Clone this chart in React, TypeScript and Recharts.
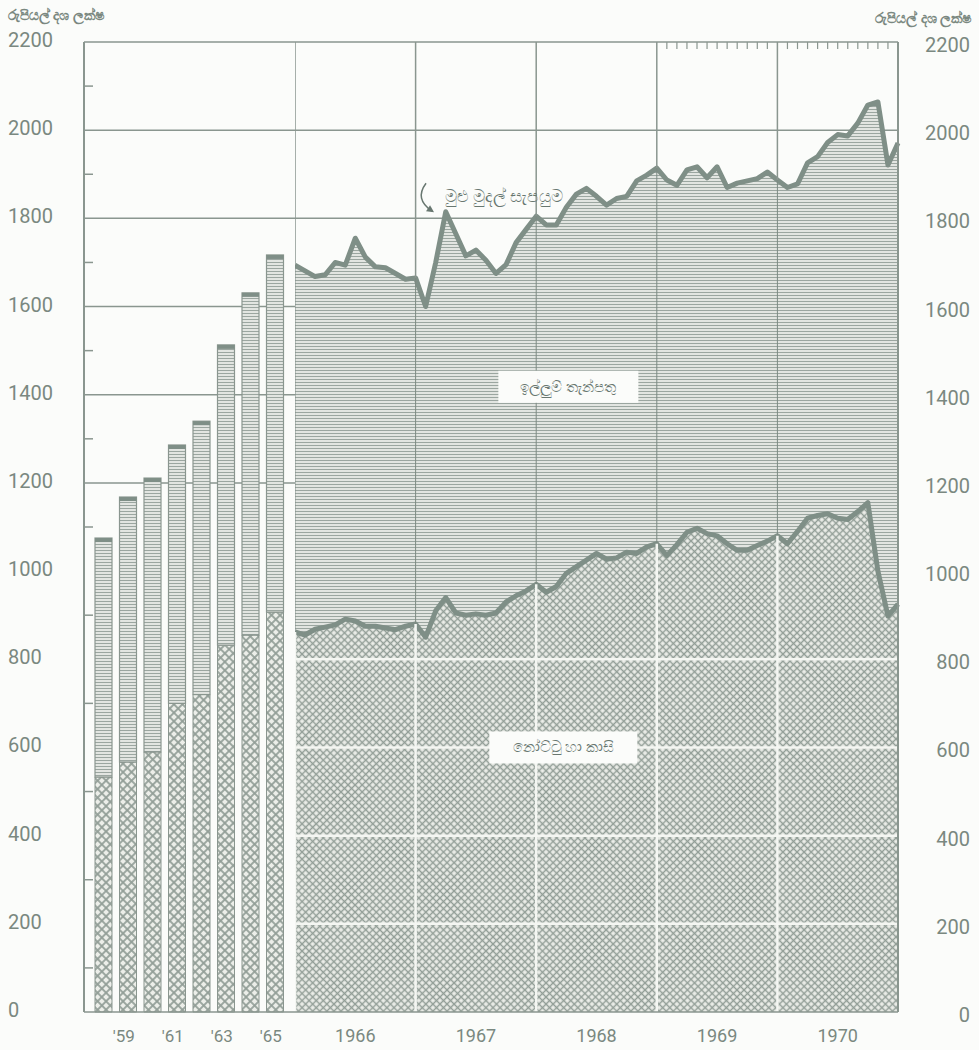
import {
  BarChart,
  Bar,
  ComposedChart,
  Area,
  XAxis,
  YAxis,
  CartesianGrid,
  ReferenceLine,
  ReferenceDot,
} from 'recharts';

// annual figures, end of year (Rs. million)
const annualYears = ['1958', '1959', '1960', '1961', '1962', '1963', '1964', '1965'];
const annualLabels = ['', "'59", '', "'61", '', "'63", '', "'65"];
const annualTotal = [1075, 1168, 1211, 1286, 1340, 1513, 1631, 1717];
const annualNotes = [533, 567, 590, 700, 720, 832, 855, 907];

// monthly figures, Dec 1965 .. Dec 1970
const monthlyTotal = [
  1694, 1681, 1668, 1672, 1700, 1694, 1755, 1712, 1690, 1688, 1675, 1662,
  1665, 1600, 1700, 1815, 1765, 1715, 1728, 1705, 1675, 1695, 1745, 1775,
  1805, 1785, 1785, 1825, 1855, 1868, 1850, 1830, 1845, 1850, 1885, 1898,
  1914, 1887, 1875, 1910, 1917, 1892, 1917, 1870, 1880, 1885, 1890, 1905,
  1887, 1870, 1878, 1926, 1940, 1972, 1990, 1987, 2016, 2057, 2064, 1921,
  1971,
];
const monthlyNotes = [
  862, 855, 868, 873, 878, 891, 887, 875, 875, 871, 867, 875,
  880, 850, 910, 940, 905, 900, 903, 900, 905, 930, 944, 955,
  970, 952, 965, 995, 1010, 1025, 1040, 1027, 1030, 1043, 1040, 1055,
  1062, 1035, 1060, 1088, 1097, 1085, 1080, 1062, 1047, 1047, 1058, 1068,
  1080, 1062, 1090, 1120, 1126, 1130, 1120, 1117, 1135, 1155, 1000, 898,
  925,
];
const yearLabels = ['1966', '1967', '1968', '1969', '1970'];
const yearTicks = [6, 18, 30, 42, 54];
const yearStarts = [0, 12, 24, 36, 48];
const minorMonths = [37, 38, 39, 40, 41, 42, 43, 44, 45, 46, 47, 49, 50, 51, 52, 53, 54, 55, 56, 57, 58, 59];

const yTicks = [0, 100, 200, 300, 400, 500, 600, 700, 800, 900, 1000, 1100, 1200, 1300, 1400, 1500, 1600, 1700, 1800, 1900, 2000, 2100, 2200];
const whiteLines = [200, 400, 600, 800];

const unitLabel = 'රුපියල් දශ ලක්ෂ';
const totalLabel = 'මුළු මුදල් සැපයුම';
const demandLabel = 'ඉල්ලුම් තැන්පතු';
const notesLabel = 'නෝට්ටු හා කාසි';

const INK = '#8a968f';
const LINE = '#7f8f87';
const TEXT = '#7a8880';
const NOTE = '#687770';
const PAPER = '#fbfcfa';
const FONT = 'Roboto, "DejaVu Sans", sans-serif';

const barRows = annualYears.map((y, i) => ({
  year: y,
  notes: annualNotes[i],
  demand: annualTotal[i] - annualNotes[i],
}));

const monthRows = monthlyTotal.map((t, i) => ({ k: i, total: t, notes: monthlyNotes[i] }));

function Patterns({ id, cross }: { id: string; cross: number }) {
  return (
    <defs>
      <pattern id={`hatch${id}`} width="4" height="3" patternUnits="userSpaceOnUse">
        <rect width="4" height="3" fill="#e6e9e5" />
        <line x1="0" y1="1.5" x2="4" y2="1.5" stroke="#9ba6a0" strokeWidth="1.1" />
      </pattern>
      <pattern
        id={`cross${id}`}
        width={cross}
        height={cross}
        patternUnits="userSpaceOnUse"
        patternTransform="rotate(45)"
      >
        <rect width={cross} height={cross} fill="#eceee9" />
        <line x1={cross / 2} y1="0" x2={cross / 2} y2={cross} stroke="#929e97" strokeWidth={cross / 3.4} />
        <line x1="0" y1={cross / 2} x2={cross} y2={cross / 2} stroke="#929e97" strokeWidth={cross / 3.4} />
      </pattern>
    </defs>
  );
}

function LeftTick(props: any) {
  const { x, y, payload } = props;
  if (payload.value % 200 !== 0) {
    return <line x1={x} y1={y} x2={x + 9} y2={y} stroke={INK} strokeWidth={1.5} />;
  }
  return (
    <text x={x - 76} y={y} dy={5} textAnchor="start" fontSize={20} fill={TEXT} fontFamily={FONT}>
      {payload.value}
    </text>
  );
}

function RightTick(props: any) {
  const { x, y, payload } = props;
  if (payload.value % 200 !== 0) return null;
  return (
    <text x={x + 72} y={y} dy={10} textAnchor="end" fontSize={20} fill={TEXT} fontFamily={FONT}>
      {payload.value}
    </text>
  );
}

function BarTick(props: any) {
  const { x, y, index } = props;
  return (
    <text x={x - 4} y={y} dy={22} textAnchor="middle" fontSize={17} fill={TEXT} fontFamily={FONT}>
      {annualLabels[index]}
    </text>
  );
}

function YearTick(props: any) {
  const { x, y, payload } = props;
  return (
    <text x={x} y={y} dy={22} textAnchor="middle" fontSize={18} fill={TEXT} fontFamily={FONT}>
      {yearLabels[yearTicks.indexOf(payload.value)]}
    </text>
  );
}

function CapBar(props: any) {
  const { x, y, width, height } = props;
  return (
    <g>
      <rect x={x} y={y} width={width} height={height} fill="url(#hatchL)" stroke={INK} strokeWidth={1.2} />
      <rect x={x} y={y} width={width} height={4} fill={LINE} />
    </g>
  );
}

function BoxNote(props: any) {
  const { viewBox, text, w } = props;
  const cx = viewBox.x + viewBox.width / 2;
  const cy = viewBox.y + viewBox.height / 2;
  return (
    <g>
      <rect x={cx - w / 2} y={cy - 16} width={w} height={32} fill={PAPER} />
      <text x={cx} y={cy} dy={5} textAnchor="middle" fontSize={15} fill={NOTE} fontFamily={FONT}>
        {text}
      </text>
    </g>
  );
}

function ArrowNote(props: any) {
  const { viewBox, text } = props;
  const cx = viewBox.x + viewBox.width / 2;
  const cy = viewBox.y + viewBox.height / 2;
  return (
    <g>
      <text x={cx} y={cy} dy={5} textAnchor="middle" fontSize={17} fill={NOTE} fontFamily={FONT}>
        {text}
      </text>
      <path
        d={`M ${cx - 78} ${cy - 14} Q ${cx - 90} ${cy + 2} ${cx - 72} ${cy + 14}`}
        fill="none"
        stroke={NOTE}
        strokeWidth={1.5}
      />
      <path d={`M ${cx - 70} ${cy + 15} l -8 -1 l 4 -6 z`} fill={NOTE} />
    </g>
  );
}

export default function App() {
  const unitStyle = {
    position: 'absolute' as const,
    top: 7,
    fontSize: 14,
    fontWeight: 700,
    color: TEXT,
    fontFamily: FONT,
  };
  return (
    <div
      style={{
        position: 'absolute',
        left: 0,
        top: 0,
        width: 979,
        height: 1050,
        background: PAPER,
        overflow: 'hidden',
      }}
    >
      <div style={{ ...unitStyle, left: 8 }}>{unitLabel}</div>
      <div style={{ ...unitStyle, right: 8, top: 10 }}>{unitLabel}</div>

      <div style={{ position: 'absolute', left: 0, top: 0 }}>
        <BarChart
          width={295}
          height={1050}
          data={barRows}
          margin={{ top: 42, right: 0, left: 0, bottom: 0 }}
          barSize={17}
        >
          <Patterns id="L" cross={6} />
          <CartesianGrid
            vertical={false}
            horizontalValues={[1200, 1400, 1600, 1800, 2000]}
            stroke={INK}
            strokeWidth={1.5}
          />
          <XAxis
            dataKey="year"
            height={38}
            padding={{ left: 7, right: 8 }}
            tickLine={false}
            axisLine={{ stroke: INK, strokeWidth: 1.5 }}
            tick={<BarTick />}
            interval={0}
          />
          <YAxis
            width={84}
            domain={[0, 2200]}
            ticks={yTicks}
            interval={0}
            tickSize={0}
            tickMargin={0}
            tickLine={false}
            axisLine={{ stroke: INK, strokeWidth: 2 }}
            tick={<LeftTick />}
          />
          <ReferenceLine y={2200} stroke={INK} strokeWidth={1.5} />
          <Bar
            dataKey="notes"
            stackId="s"
            fill="url(#crossL)"
            stroke={INK}
            strokeWidth={1}
            isAnimationActive={false}
          />
          <Bar dataKey="demand" stackId="s" shape={<CapBar />} isAnimationActive={false} />
        </BarChart>
      </div>

      <div style={{ position: 'absolute', left: 295, top: 0 }}>
        <ComposedChart
          width={684}
          height={1050}
          data={monthRows}
          margin={{ top: 42, right: 0, left: 0, bottom: 0 }}
        >
          <Patterns id="R" cross={5} />
          <CartesianGrid
            vertical={false}
            horizontalValues={[200, 400, 600, 800, 1000, 1200, 1400, 1600, 1800, 2000]}
            stroke={INK}
            strokeWidth={1.5}
          />
          <XAxis
            dataKey="k"
            type="number"
            domain={[0, 60]}
            ticks={yearTicks}
            interval={0}
            height={38}
            tickLine={false}
            axisLine={{ stroke: INK, strokeWidth: 1.5 }}
            tick={<YearTick />}
          />
          <YAxis
            orientation="right"
            width={81}
            domain={[0, 2200]}
            ticks={yTicks}
            interval={0}
            tickSize={0}
            tickMargin={0}
            tickLine={false}
            axisLine={{ stroke: INK, strokeWidth: 2 }}
            tick={<RightTick />}
          />
          <Area
            type="linear"
            dataKey="total"
            fill="url(#hatchR)"
            fillOpacity={1}
            stroke={LINE}
            strokeWidth={5}
            strokeLinejoin="round"
            isAnimationActive={false}
          />
          <Area
            type="linear"
            dataKey="notes"
            fill="url(#crossR)"
            fillOpacity={1}
            stroke={LINE}
            strokeWidth={5}
            strokeLinejoin="round"
            isAnimationActive={false}
          />
          <ReferenceLine y={2200} stroke={INK} strokeWidth={1.5} />
          {whiteLines.map((v) => (
            <ReferenceLine key={`w${v}`} y={v} stroke="#f4f6f2" strokeWidth={2.5} />
          ))}
          {yearStarts.map((s) => (
            <ReferenceLine
              key={`d${s}`}
              segment={[{ x: s, y: monthlyTotal[s] }, { x: s, y: 2200 }]}
              stroke={INK}
              strokeWidth={1.5}
            />
          ))}
          {yearStarts.map((s) => (
            <ReferenceLine
              key={`m${s}`}
              segment={[{ x: s, y: monthlyNotes[s] }, { x: s, y: monthlyTotal[s] }]}
              stroke="#7d8a83"
              strokeWidth={1}
            />
          ))}
          {yearStarts.map((s) => (
            <ReferenceLine
              key={`v${s}`}
              segment={[{ x: s, y: 0 }, { x: s, y: monthlyNotes[s] }]}
              stroke="#f4f6f2"
              strokeWidth={2.5}
            />
          ))}
          {minorMonths.map((m) => (
            <ReferenceLine
              key={`t${m}`}
              segment={[{ x: m, y: 2200 }, { x: m, y: 2184 }]}
              stroke={INK}
              strokeWidth={1.2}
            />
          ))}
          <ReferenceDot
            x={20.8}
            y={1848}
            r={0}
            fill="none"
            stroke="none"
            label={(p: any) => <ArrowNote {...p} text={totalLabel} />}
          />
          <ReferenceDot
            x={27.2}
            y={1418}
            r={0}
            fill="none"
            stroke="none"
            label={(p: any) => <BoxNote {...p} text={demandLabel} w={140} />}
          />
          <ReferenceDot
            x={26.7}
            y={600}
            r={0}
            fill="none"
            stroke="none"
            label={(p: any) => <BoxNote {...p} text={notesLabel} w={148} />}
          />
        </ComposedChart>
      </div>
    </div>
  );
}
